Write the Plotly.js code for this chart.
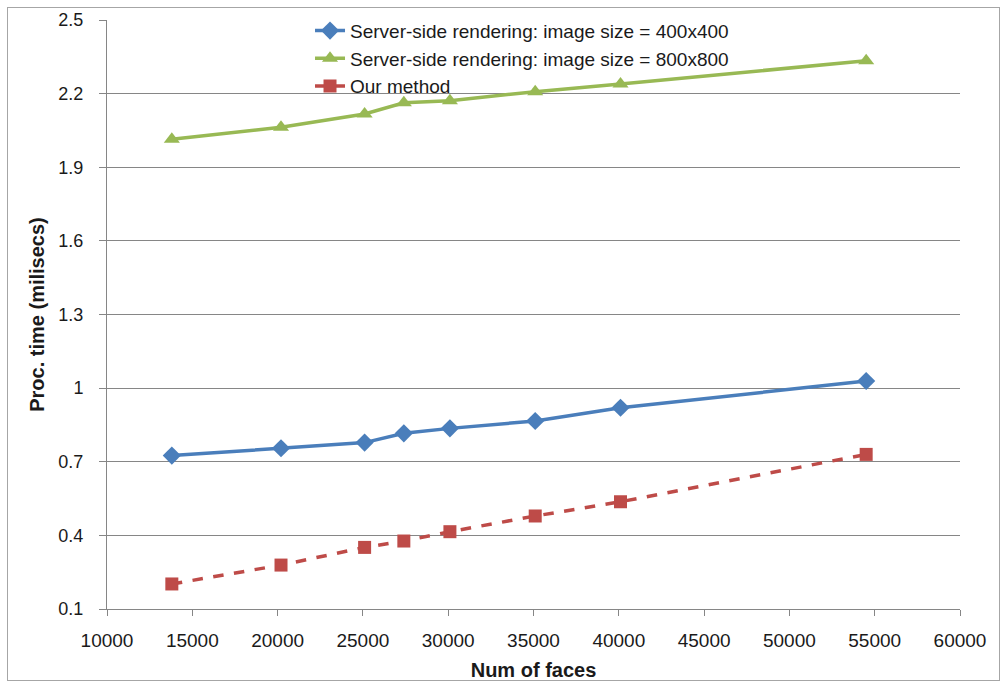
<!DOCTYPE html>
<html>
<head>
<meta charset="utf-8">
<script src="https://cdn.plot.ly/plotly-3.0.1.min.js"></script>
<style>
  html, body { margin: 0; padding: 0; background: #fff; }
  #wrap { position: relative; width: 1006px; height: 687px; }
  #frame { position: absolute; left: 7px; top: 7px; width: 991px; height: 672px; border: 1px solid #a6a6a6; pointer-events: none; }
  #chart { position: absolute; left: 0; top: 0; width: 1006px; height: 687px; }
</style>
</head>
<body>
<div id="wrap">
  <div id="chart"></div>
  <div id="frame"></div>
</div>
<script>
const numFaces = [13800, 20200, 25100, 27400, 30100, 35100, 40100, 54500];
const ssr400 = [0.725, 0.755, 0.778, 0.816, 0.836, 0.866, 0.920, 1.029];
const ssr800 = [2.014, 2.063, 2.117, 2.163, 2.171, 2.208, 2.239, 2.334];
const ourMethod = [0.202, 0.279, 0.351, 0.377, 0.415, 0.479, 0.537, 0.730];

const seriesNames = [
  "Server-side rendering: image size = 400x400",
  "Server-side rendering: image size = 800x800",
  "Our method"
];

const xTickVals = [10000, 15000, 20000, 25000, 30000, 35000, 40000, 45000, 50000, 55000, 60000];
const xTickText = ["10000", "15000", "20000", "25000", "30000", "35000", "40000", "45000", "50000", "55000", "60000"];
const yTickVals = [0.1, 0.4, 0.7, 1.0, 1.3, 1.6, 1.9, 2.2, 2.5];
const yTickText = ["0.1", "0.4", "0.7", "1", "1.3", "1.6", "1.9", "2.2", "2.5"];

const traces = [
  {
    x: numFaces, y: ssr400, name: seriesNames[0], type: "scatter", mode: "lines+markers",
    line: { color: "#4a7ebb", width: 3.5 },
    marker: { symbol: "diamond", size: 14, color: "#4a7ebb" }
  },
  {
    x: numFaces, y: ssr800, name: seriesNames[1], type: "scatter", mode: "lines+markers",
    line: { color: "#98b954", width: 3.5 },
    marker: { symbol: "triangle-up", size: 14, color: "#98b954" }
  },
  {
    x: numFaces, y: ourMethod, name: seriesNames[2], type: "scatter", mode: "lines+markers",
    line: { color: "#be4b48", width: 3.5, dash: "dash" },
    marker: { symbol: "square", size: 13, color: "#be4b48" }
  }
];

const layout = {
  width: 1006, height: 687,
  margin: { l: 107, r: 46, t: 20, b: 78 },
  paper_bgcolor: "#ffffff",
  plot_bgcolor: "#ffffff",
  font: { family: "Liberation Sans, Arial, sans-serif", color: "#1a1a1a" },
  showlegend: true,
  legend: {
    x: 0.238, y: 1.014, xanchor: "left", yanchor: "top",
    bgcolor: "rgba(255,255,255,0)",
    font: { size: 19, family: "Liberation Sans, Arial, sans-serif", color: "#1a1a1a" },
    tracegroupgap: 0
  },
  xaxis: {
    range: [10000, 60000],
    tickmode: "array", tickvals: xTickVals, ticktext: xTickText,
    showgrid: false, zeroline: false,
    showline: true, linecolor: "#868686", linewidth: 1,
    ticks: "outside", ticklen: 6, tickcolor: "#868686",
    ticklabelstandoff: 8,
    tickfont: { size: 19 },
    title: { text: "<b>Num of faces</b>", font: { size: 20 }, standoff: 13 }
  },
  yaxis: {
    range: [0.1, 2.5],
    tickmode: "array", tickvals: yTickVals, ticktext: yTickText,
    showgrid: true, gridcolor: "#868686", gridwidth: 1,
    zeroline: false,
    showline: true, linecolor: "#868686", linewidth: 1,
    ticks: "outside", ticklen: 7, tickcolor: "#868686",
    ticklabelstandoff: 12,
    tickfont: { size: 18 },
    title: { text: "<b>Proc. time (milisecs)</b>", font: { size: 20 }, standoff: 8 }
  }
};

Plotly.newPlot("chart", traces, layout, { displayModeBar: false, staticPlot: true });
</script>
</body>
</html>
